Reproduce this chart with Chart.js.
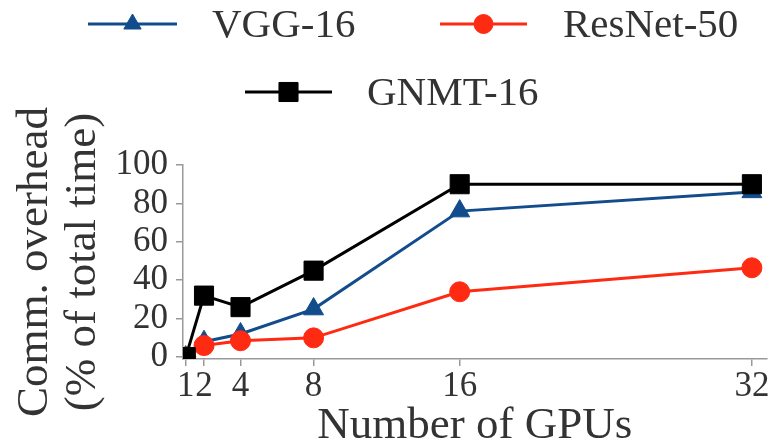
<!DOCTYPE html>
<html>
<head>
<meta charset="utf-8">
<script src="https://cdn.jsdelivr.net/npm/chart.js@4.4.0/dist/chart.umd.min.js"></script>
<style>
  html, body { margin: 0; padding: 0; background: #fff; }
  #wrap { width: 781px; height: 446px; }
</style>
</head>
<body>
<div id="wrap"><canvas id="myChart" width="781" height="446"></canvas></div>
<script>
const gpus = [1, 2, 4, 8, 16, 32];
const vgg16 = [0, 8, 12, 25, 76, 86];
const resnet50 = [0, 6, 8.5, 10, 34, 46.5];
const gnmt16 = [0, 32, 26, 45, 90, 90];
const xTicks = [1, 2, 4, 8, 16, 32];
const yTicks = [0, 20, 40, 60, 80, 100];

const FONT = '"Liberation Serif", "Times New Roman", serif';
const TEXT = '#333';
const AXIS = '#999';

const series = [
  { label: 'VGG-16', data: vgg16, color: '#124c8c', style: 'triangle', r: 11.5, lr: 10, order: 2 },
  { label: 'ResNet-50', data: resnet50, color: '#ff2a12', style: 'circle', r: 10, lr: 9.5, order: 1 },
  { label: 'GNMT-16', data: gnmt16, color: '#000000', style: 'rect', r: 13.5, lr: 13.5, order: 0 }
];

// legend drawn by hand: two rows, line with marker in the middle
const legendPos = [
  { x1: 88, x2: 177, y: 24, tx: 212 },
  { x1: 440, x2: 527, y: 24, tx: 563 },
  { x1: 245, x2: 332, y: 92, tx: 367 }
];

const legendPlugin = {
  id: 'customLegend',
  afterDraw(chart) {
    const ctx = chart.ctx;
    ctx.save();
    series.forEach((s, i) => {
      const p = legendPos[i];
      ctx.strokeStyle = s.color;
      ctx.lineWidth = 3;
      ctx.beginPath();
      ctx.moveTo(p.x1, p.y);
      ctx.lineTo(p.x2, p.y);
      ctx.stroke();
      ctx.fillStyle = s.color;
      ctx.lineWidth = 1;
      Chart.helpers.drawPoint(ctx, {
        pointStyle: s.style, radius: s.lr, rotation: 0, borderWidth: 1
      }, (p.x1 + p.x2) / 2, p.y);
      ctx.fillStyle = TEXT;
      ctx.font = '41px ' + FONT;
      ctx.textBaseline = 'middle';
      ctx.fillText(s.label, p.tx, p.y + 2);
    });
    ctx.restore();
  }
};

const ctx = document.getElementById('myChart').getContext('2d');
const myChart = new Chart(ctx, {
  type: 'line',
  data: {
    datasets: series.map(s => ({
      label: s.label,
      data: gpus.map((g, i) => ({ x: g, y: s.data[i] })),
      borderColor: s.color,
      backgroundColor: s.color,
      pointBackgroundColor: s.color,
      pointBorderColor: s.color,
      pointStyle: s.style,
      pointRadius: s.r,
      pointBorderWidth: 1,
      borderWidth: 3,
      fill: false,
      tension: 0,
      order: s.order
    }))
  },
  options: {
    responsive: false,
    animation: false,
    layout: { padding: { top: 165, right: 3, left: 0, bottom: 0 } },
    plugins: {
      legend: { display: false },
      tooltip: { enabled: false }
    },
    scales: {
      x: {
        type: 'linear',
        min: 0.85,
        max: 32.8,
        afterBuildTicks: axis => { axis.ticks = xTicks.map(v => ({ value: v })); },
        afterFit: axis => { axis.height = 87; },
        grid: { display: true, drawOnChartArea: false, drawTicks: true, tickLength: 7, color: AXIS, lineWidth: 1.5 },
        border: { display: true, color: AXIS, width: 1.5 },
        ticks: { color: TEXT, font: { family: FONT, size: 35 }, padding: 0, maxRotation: 0, autoSkip: false },
        title: { display: true, text: 'Number of GPUs', color: TEXT, font: { family: FONT, size: 45, lineHeight: 1 }, padding: { top: 0, bottom: -3 } }
      },
      y: {
        min: -1,
        max: 100,
        afterBuildTicks: axis => { axis.ticks = yTicks.map(v => ({ value: v })); },
        afterFit: axis => { axis.width = 183; },
        grid: { display: true, drawOnChartArea: false, drawTicks: true, tickLength: 7, color: AXIS, lineWidth: 1.5 },
        border: { display: true, color: AXIS, width: 1.5 },
        ticks: { color: TEXT, font: { family: FONT, size: 35 }, padding: 8, autoSkip: false },
        title: { display: true, text: ['Comm. overhead', '(% of total time)'], color: TEXT, font: { family: FONT, size: 45, lineHeight: 1.05 }, padding: { top: 12, bottom: 0 } }
      }
    }
  },
  plugins: [legendPlugin]
});
</script>
</body>
</html>
